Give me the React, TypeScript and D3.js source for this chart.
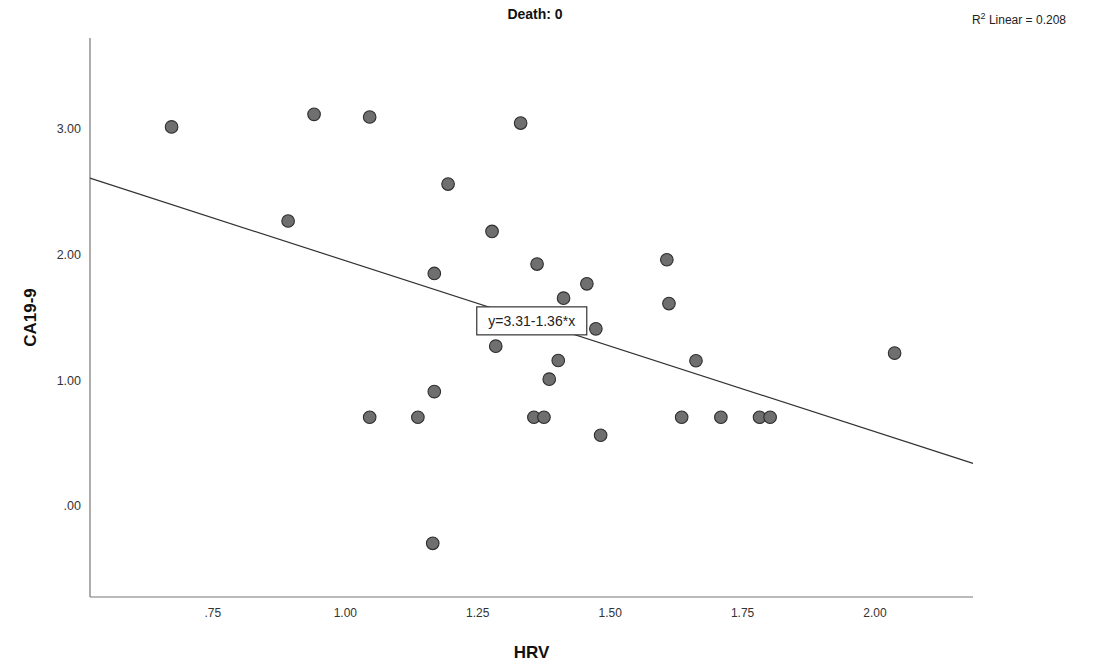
import * as d3 from 'd3';

// HRV (x) and CA19-9 (y) for the Death: 0 group
const hrv = [
  0.672, 0.941, 1.046, 1.194, 1.331, 0.892, 1.277, 1.168, 1.362, 1.456,
  1.412, 1.607, 1.611, 1.473, 1.284, 1.402, 1.662, 1.385, 1.168, 1.046,
  1.137, 1.356, 1.375, 1.635, 1.709, 1.782, 1.802, 1.482, 2.037, 1.165,
];
const ca199 = [
  3.013, 3.113, 3.092, 2.559, 3.044, 2.265, 2.182, 1.848, 1.923, 1.766,
  1.652, 1.957, 1.609, 1.408, 1.27, 1.156, 1.154, 1.008, 0.909, 0.705,
  0.705, 0.705, 0.705, 0.705, 0.705, 0.705, 0.705, 0.562, 1.215, -0.297,
];
const xTicks = [0.75, 1.0, 1.25, 1.5, 1.75, 2.0];
const yTicks = [0, 1, 2, 3];
const fitIntercept = 3.31;
const fitSlope = -1.36;
const rSquared = 0.208;
const labelAtX = 1.352;

const W = 1098;
const H = 666;
const font = 'Arial, "Liberation Sans", sans-serif';

export default function App() {
  const x = d3.scaleLinear().domain([0.518, 2.185]).range([90, 973]);
  const y = d3.scaleLinear().domain([-0.724, 3.72]).range([597, 38]);
  const [x0, x1] = x.domain();
  const fit = (v: number) => fitIntercept + fitSlope * v;
  const line = d3.line<number>().x(d => x(d)).y(d => y(fit(d)));
  const fmt = (v: number) => d3.format('.2f')(v).replace(/^0\./, '.');

  const lx = x(labelAtX);
  const ly = y(fit(labelAtX));

  return (
    <svg width={W} height={H} style={{ position: 'absolute', left: 0, top: 0, background: '#fff' }}>
      <text x={535} y={19} textAnchor="middle" fontFamily={font} fontWeight="bold" fontSize={14} fill="#111">
        Death: 0
      </text>
      <text x={1066} y={24} textAnchor="end" fontFamily={font} fontSize={12} fill="#222">
        R<tspan dy={-5} fontSize={9}>2</tspan>
        <tspan dy={5}> Linear = {rSquared.toFixed(3)}</tspan>
      </text>

      {/* axes */}
      <line x1={x(x0)} x2={x(x0)} y1={y.range()[1]} y2={y.range()[0]} stroke="#777" strokeWidth={1.2} />
      <line x1={x(x0)} x2={x(x1)} y1={y.range()[0]} y2={y.range()[0]} stroke="#777" strokeWidth={1.2} />

      {yTicks.map(t => (
        <text key={t} x={81} y={y(t)} dy="0.35em" textAnchor="end" fontFamily={font} fontSize={12.5} fill="#333">
          {fmt(t)}
        </text>
      ))}
      {xTicks.map(t => (
        <text key={t} x={x(t)} y={617} textAnchor="middle" fontFamily={font} fontSize={12} fill="#333"
          style={{ fontStretch: 'condensed' }}>
          {fmt(t)}
        </text>
      ))}

      <text x={(x(x0) + x(x1)) / 2} y={658} textAnchor="middle" fontFamily={font} fontWeight="bold" fontSize={17} fill="#111">
        HRV
      </text>
      <text transform={`translate(36,${(y.range()[0] + y.range()[1]) / 2}) rotate(-90)`} textAnchor="middle"
        fontFamily={font} fontWeight="bold" fontSize={17} fill="#111">
        CA19-9
      </text>

      {/* fit line */}
      <path d={line([x0, x1]) ?? ''} fill="none" stroke="#333" strokeWidth={1.2} />

      {/* points */}
      {hrv.map((v, i) => (
        <circle key={i} cx={x(v)} cy={y(ca199[i])} r={6.3} fill="#6f6f6f" stroke="#2e2e2e" strokeWidth={1.1} />
      ))}

      {/* equation label */}
      <rect x={lx - 55} y={ly - 14} width={110} height={28} fill="#fff" stroke="#333" strokeWidth={1.2} />
      <text x={lx} y={ly} dy="0.36em" textAnchor="middle" fontFamily={font} fontSize={14} fill="#222">
        y=3.31-1.36*x
      </text>
    </svg>
  );
}
